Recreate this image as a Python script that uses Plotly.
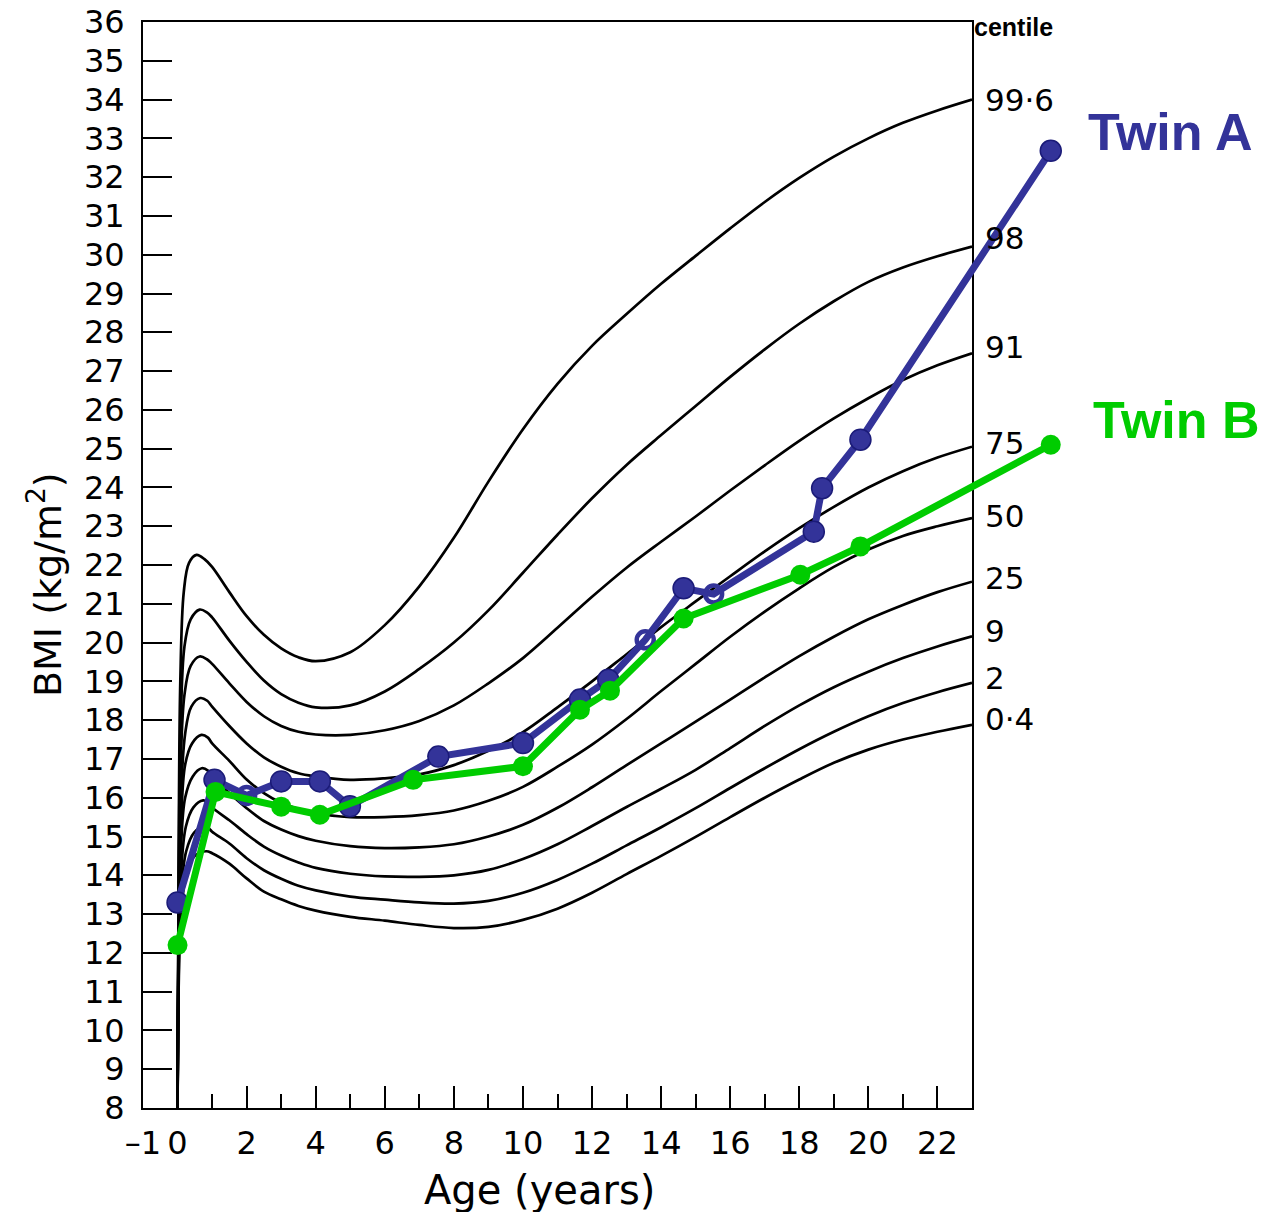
import plotly.graph_objects as go

# ---------------- data ----------------
CENTILES = ["99·6", "98", "91", "75", "50", "25", "9", "2", "0·4"]

LATE_AGES = [1, 1.5, 2, 2.5, 3, 3.5, 4, 5, 6, 7, 8, 9, 10, 11, 12, 13, 14, 15,
             16, 17, 18, 19, 20, 21, 22, 23]

INFANT_AGES = {
    "99·6": [0, 0.03, 0.08, 0.18, 0.33, 0.55, 0.78],
    "98":   [0, 0.03, 0.09, 0.20, 0.38, 0.64, 0.85],
    "91":   [0, 0.03, 0.09, 0.20, 0.38, 0.64, 0.85],
    "75":   [0, 0.03, 0.10, 0.22, 0.40, 0.66, 0.86],
    "50":   [0, 0.03, 0.10, 0.22, 0.42, 0.69, 0.88],
    "25":   [0, 0.03, 0.10, 0.22, 0.44, 0.70, 0.88],
    "9":    [0, 0.03, 0.10, 0.24, 0.46, 0.74, 0.90],
    "2":    [0, 0.03, 0.10, 0.25, 0.48, 0.78, 0.92],
    "0·4":  [0, 0.03, 0.10, 0.26, 0.50, 0.83],
}
INFANT_BMI = {
    "99·6": [8.0, 14.0, 19.0, 21.3, 22.05, 22.26, 22.15],
    "98":   [8.0, 13.5, 17.8, 19.9, 20.6, 20.85, 20.78],
    "91":   [8.0, 13.0, 16.8, 18.65, 19.4, 19.64, 19.57],
    "75":   [8.0, 12.7, 16.0, 17.65, 18.35, 18.57, 18.5],
    "50":   [8.0, 12.3, 15.3, 16.85, 17.4, 17.62, 17.55],
    "25":   [8.0, 12.0, 14.7, 16.0, 16.55, 16.76, 16.7],
    "9":    [8.0, 11.6, 14.0, 15.25, 15.75, 15.93, 15.87],
    "2":    [8.0, 11.3, 13.5, 14.62, 15.1, 15.26, 15.2],
    "0·4":  [8.0, 11.0, 13.0, 14.05, 14.5, 14.62],
}
LATE_BMI = {
    "99·6": [21.95, 21.3, 20.68, 20.2, 19.85, 19.62, 19.52, 19.75, 20.45, 21.45, 22.7, 24.15,
             25.5, 26.67, 27.65, 28.47, 29.25, 29.97, 30.68, 31.36, 31.98, 32.53, 33.0, 33.4,
             33.72, 34.0],
    "98":   [20.65, 20.05, 19.5, 19.02, 18.67, 18.45, 18.33, 18.38, 18.74, 19.32, 20.0, 20.83,
             21.8, 22.78, 23.72, 24.58, 25.35, 26.1, 26.85, 27.56, 28.22, 28.8, 29.3, 29.67,
             29.96, 30.21],
    "91":   [19.45, 18.95, 18.47, 18.1, 17.85, 17.7, 17.63, 17.62, 17.74, 17.98, 18.38, 18.95,
             19.6, 20.38, 21.18, 21.93, 22.6, 23.25, 23.92, 24.57, 25.2, 25.78, 26.3, 26.77,
             27.15, 27.46],
    "75":   [18.35, 17.85, 17.4, 17.04, 16.8, 16.63, 16.55, 16.46, 16.5, 16.6, 16.84, 17.21,
             17.69, 18.33, 19.0, 19.7, 20.4, 21.06, 21.71, 22.35, 22.95, 23.5, 24.0, 24.42,
             24.77, 25.05],
    "50":   [17.4, 16.95, 16.47, 16.12, 15.87, 15.71, 15.6, 15.5, 15.5, 15.55, 15.67, 15.92,
             16.28, 16.8, 17.37, 18.03, 18.75, 19.45, 20.15, 20.8, 21.4, 21.95, 22.4, 22.75,
             23.0, 23.21],
    "25":   [16.55, 16.12, 15.73, 15.4, 15.18, 15.01, 14.89, 14.75, 14.7, 14.72, 14.8, 15.0,
             15.3, 15.74, 16.27, 16.84, 17.4, 17.96, 18.53, 19.1, 19.65, 20.15, 20.6, 20.97,
             21.3, 21.57],
    "9":    [15.75, 15.42, 15.06, 14.74, 14.51, 14.33, 14.19, 14.04, 13.97, 13.96, 14.0, 14.14,
             14.42, 14.8, 15.27, 15.76, 16.23, 16.72, 17.28, 17.85, 18.38, 18.85, 19.25, 19.6,
             19.9, 20.16],
    "2":    [15.12, 14.82, 14.44, 14.13, 13.91, 13.73, 13.61, 13.45, 13.37, 13.3, 13.27, 13.34,
             13.55, 13.88, 14.3, 14.77, 15.24, 15.73, 16.25, 16.76, 17.25, 17.7, 18.1, 18.44,
             18.72, 18.96],
    "0·4":  [14.57, 14.3, 13.92, 13.58, 13.38, 13.21, 13.09, 12.93, 12.83, 12.72, 12.64, 12.67,
             12.85, 13.14, 13.55, 14.03, 14.5, 14.99, 15.5, 16.0, 16.47, 16.9, 17.24, 17.5,
             17.7, 17.88],
}

TWIN_A_AGE = [0.0, 1.07, 2.0, 3.0, 4.12, 4.99, 7.55, 10.0, 11.65, 12.47, 13.54, 14.65, 15.52,
              18.42, 18.66, 19.77, 25.28]
TWIN_A_BMI = [13.3, 16.46, 16.06, 16.42, 16.42, 15.78, 17.06, 17.41, 18.53, 19.04, 20.07, 21.4,
              21.25, 22.86, 23.98, 25.23, 32.68]
TWIN_A_OPEN = [2.0, 13.54, 15.52]   # markers that appear as rings

TWIN_B_AGE = [0.0, 1.1, 3.0, 4.12, 6.82, 10.0, 11.65, 12.52, 14.65, 18.03, 19.77, 25.28]
TWIN_B_BMI = [12.2, 16.15, 15.77, 15.56, 16.46, 16.81, 18.27, 18.76, 20.62, 21.75, 22.48, 25.1]

X_TICKS = [-1, 0, 2, 4, 6, 8, 10, 12, 14, 16, 18, 20, 22]
X_TICKTEXT = ["\u20131"] + [str(v) for v in X_TICKS[1:]]
X_MINOR = [1, 3, 5, 7, 9, 11, 13, 15, 17, 19, 21]
Y_TICKS = list(range(8, 37))

# ---------------- layout geometry ----------------
W, H = 1267, 1212
L, R_EDGE, T, B = 143, 972, 22, 1108          # pixel box of the chart frame
PLOT_W = W - L                                  # plotting region extends to page right
PLOT_H = B - T
X_MIN, X_MAX = -1, 23
D1 = (R_EDGE - L) / PLOT_W
X2_MAX = X_MIN + (X_MAX - X_MIN) / D1

LABEL_PX_Y = [100, 238, 347, 443, 516, 578, 631, 678, 719]   # centile label rows (px)


def px(xp):
    return (xp - L) / PLOT_W


def py(yp):
    return (B - yp) / PLOT_H


BLUE = "#333399"
BLUE_EDGE = "#1b1b78"
GREEN = "#00cc00"
FONT = "DejaVu Sans"

fig = go.Figure()

for c in CENTILES:
    fig.add_trace(go.Scatter(
        x=INFANT_AGES[c] + LATE_AGES,
        y=INFANT_BMI[c] + LATE_BMI[c],
        mode="lines",
        line=dict(color="black", width=2.7, shape="spline", smoothing=1.0),
        xaxis="x", yaxis="y", hoverinfo="skip", showlegend=False,
    ))

symA = ["circle-open" if a in TWIN_A_OPEN else "circle" for a in TWIN_A_AGE]
lwA = [4.5 if a in TWIN_A_OPEN else 1.5 for a in TWIN_A_AGE]
szA = [17 if a in TWIN_A_OPEN else 21 for a in TWIN_A_AGE]
fig.add_trace(go.Scatter(
    x=TWIN_A_AGE, y=TWIN_A_BMI, mode="lines+markers",
    line=dict(color=BLUE, width=7),
    marker=dict(color=BLUE, size=szA, symbol=symA, opacity=1,
                line=dict(color=BLUE_EDGE, width=lwA)),
    xaxis="x2", yaxis="y", showlegend=False, name="Twin A",
))
fig.add_trace(go.Scatter(
    x=TWIN_B_AGE, y=TWIN_B_BMI, mode="lines+markers",
    line=dict(color=GREEN, width=7),
    marker=dict(color=GREEN, size=20, opacity=1, line=dict(width=0)),
    xaxis="x2", yaxis="y", showlegend=False, name="Twin B",
))

annotations = []
for c, ly in zip(CENTILES, LABEL_PX_Y):
    annotations.append(dict(
        text=c, xref="paper", yref="paper", x=px(983), y=py(ly),
        xanchor="left", yanchor="middle", showarrow=False,
        font=dict(family=FONT, size=31, color="black")))
annotations.append(dict(
    text="<b>centile</b>", xref="paper", yref="paper", x=px(972), y=py(27),
    xanchor="left", yanchor="middle", showarrow=False,
    font=dict(family="Liberation Sans, Arial", size=25, color="black")))
annotations.append(dict(
    text="<b>Twin A</b>", xref="paper", yref="paper", x=px(1170), y=py(132),
    xanchor="center", yanchor="middle", showarrow=False,
    font=dict(family="Liberation Sans, Arial", size=52, color=BLUE)))
annotations.append(dict(
    text="<b>Twin B</b>", xref="paper", yref="paper", x=px(1176), y=py(420),
    xanchor="center", yanchor="middle", showarrow=False,
    font=dict(family="Liberation Sans, Arial", size=52, color=GREEN)))
annotations.append(dict(
    text="Age (years)", xref="paper", yref="paper", x=px(539), y=py(1190),
    xanchor="center", yanchor="middle", showarrow=False,
    font=dict(family=FONT, size=40, color="black")))
annotations.append(dict(
    text="BMI (kg/m<sup>2</sup>)", xref="paper", yref="paper", x=px(45), y=py(585),
    xanchor="center", yanchor="middle", showarrow=False, textangle=-90,
    font=dict(family=FONT, size=38, color="black")))

fig.update_layout(
    width=W, height=H,
    margin=dict(l=L, r=W - L - PLOT_W, t=T, b=H - B, pad=0),
    paper_bgcolor="white", plot_bgcolor="rgba(0,0,0,0)",
    showlegend=False,
    annotations=annotations,
    xaxis=dict(
        domain=[0, D1], range=[X_MIN, X_MAX], anchor="y",
        tickmode="array", tickvals=X_TICKS, ticktext=X_TICKTEXT, tickangle=0,
        ticks="inside", ticklen=22, tickwidth=2, tickcolor="black",
        showline=True, linecolor="black", linewidth=2, mirror=True,
        showgrid=False, zeroline=False,
        tickfont=dict(family=FONT, size=32, color="black"),
        ticklabelstandoff=6,
        minor=dict(tickmode="array", tickvals=X_MINOR, ticks="inside",
                   ticklen=14, tickwidth=2, tickcolor="black", showgrid=False),
    ),
    xaxis2=dict(
        domain=[0, 1], range=[X_MIN, X2_MAX], anchor="y",
        visible=False, showgrid=False, zeroline=False,
    ),
    yaxis=dict(
        domain=[0, 1], range=[8, 36], anchor="x",
        tickmode="array", tickvals=Y_TICKS,
        ticks="inside", ticklen=29, tickwidth=2, tickcolor="black",
        showline=True, linecolor="black", linewidth=2, mirror=True,
        showgrid=False, zeroline=False,
        tickfont=dict(family=FONT, size=32, color="black"),
        ticklabelstandoff=10,
    ),
)

fig.write_html("out.html", config={"displayModeBar": False},
               post_script="document.body.style.margin='0';")
